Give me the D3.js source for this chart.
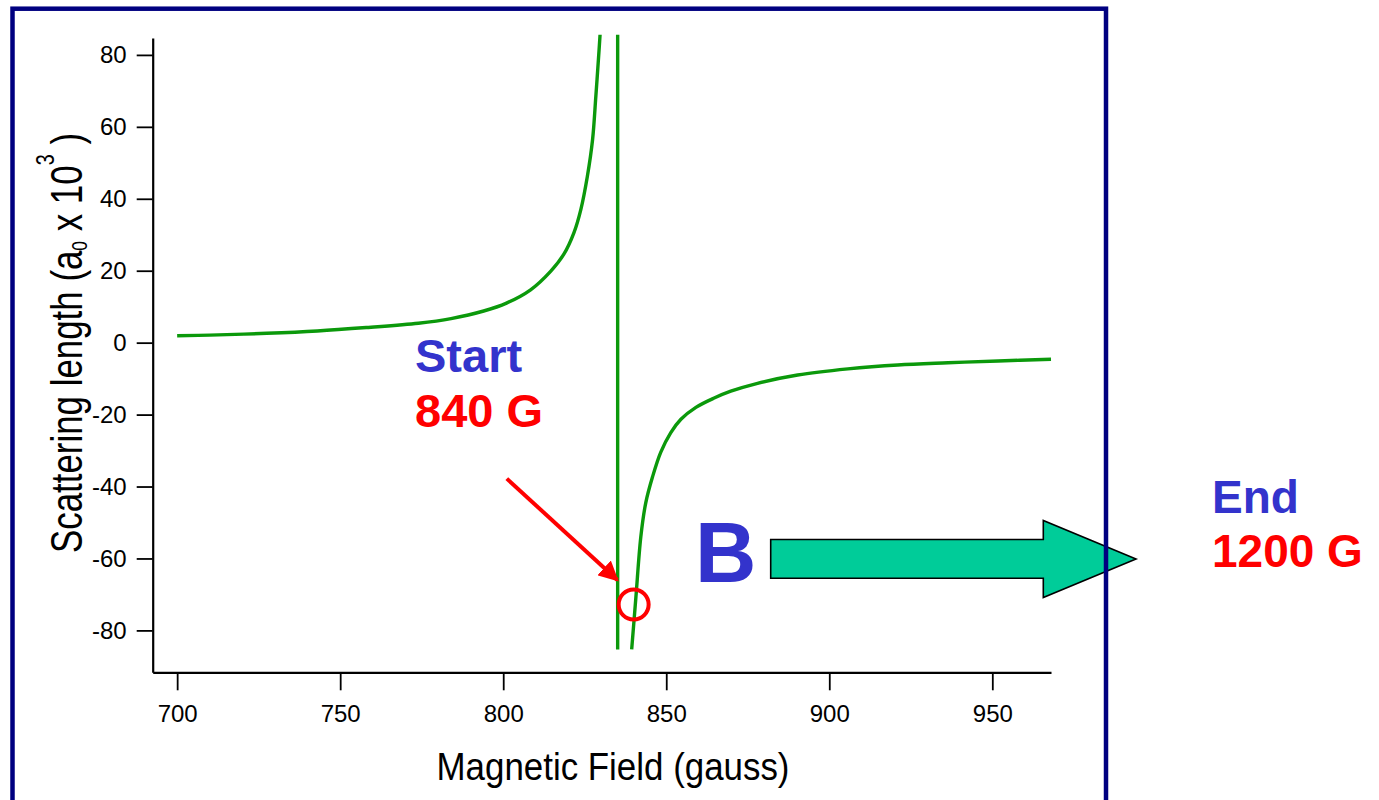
<!DOCTYPE html>
<html>
<head>
<meta charset="utf-8">
<script src="https://cdn.jsdelivr.net/npm/d3@7"></script>
<style>
  body { margin: 0; background: #fff; }
  svg { display: block; font-family: "Liberation Sans", Arial, sans-serif; }
</style>
</head>
<body>
<div class="chart"></div>
<script>
// magnetic field (gauss) and scattering length (a0 x 10^3)
const leftField = [700, 710, 727.5, 743, 758, 774, 784, 794, 801, 808.4, 814.6, 818.6, 821.7, 823.8, 825.8, 827.4, 828.4, 829.4, 829.7];
const leftLength = [1.9, 2.1, 2.6, 3.25, 4.2, 5.4, 6.7, 8.8, 11.0, 14.7, 19.9, 24.6, 30.6, 37.0, 46.2, 56.4, 68.4, 81.4, 85.6];
const rightField = [839.4, 840.7, 842.2, 843.7, 845.8, 848.3, 851.4, 854.5, 859.1, 864.7, 869.8, 878.0, 890.3, 905.7, 921.0, 936.4, 951.8, 968.0];
const rightLength = [-85.3, -70.7, -54.0, -44.6, -37.3, -30.5, -25.0, -21.3, -18.0, -15.4, -13.5, -11.3, -9.0, -7.3, -6.2, -5.6, -5.1, -4.6];
const poleField = 835.1;
const poleLength = [-85.3, 85.6];
const startMarker = [840, -72.8];
const pointerFrom = [801.1, -37.8];
const pointerTo = [835.0, -66.0];

const xTicks = [700, 750, 800, 850, 900, 950];
const yTicks = [-80, -60, -40, -20, 0, 20, 40, 60, 80];

const width = 1379;
const height = 800;
const green = "#0b990b";

const svg = d3
  .select(".chart")
  .append("svg")
  .attr("width", width)
  .attr("height", height);

const x = d3.scaleLinear().domain([692.5, 968]).range([152.7, 1051]);
const y = d3.scaleLinear().domain([-91.65, 84.7]).range([672.3, 38]);

// axes (plain hyphen for negatives, like the original)
const xAxis = svg
  .append("g")
  .attr("transform", "translate(0,672.3)")
  .call(d3.axisBottom(x).tickValues(xTicks).tickFormat((d) => String(d)).tickSize(18).tickSizeOuter(0).tickPadding(15));
xAxis.selectAll("text").attr("font-size", 24).attr("fill", "#000").attr("font-family", "Liberation Sans, Arial");

const yAxis = svg
  .append("g")
  .attr("transform", "translate(152.7,0)")
  .call(d3.axisLeft(y).tickValues(yTicks).tickFormat((d) => String(d)).tickSize(16).tickSizeOuter(0).tickPadding(10));
yAxis.selectAll("text").attr("font-size", 24).attr("fill", "#000").attr("font-family", "Liberation Sans, Arial");

svg.selectAll(".domain").attr("stroke", "#000").attr("stroke-width", 2.2);
svg.selectAll(".tick line").attr("stroke", "#000").attr("stroke-width", 1.8);

// axis titles
svg
  .append("text")
  .attr("x", 613)
  .attr("y", 780)
  .attr("text-anchor", "middle")
  .attr("font-size", 38)
  .attr("textLength", 353)
  .attr("lengthAdjust", "spacingAndGlyphs")
  .text("Magnetic Field (gauss)");

const yTitle = svg
  .append("text")
  .attr("transform", "translate(81.7,343) rotate(-90)")
  .attr("text-anchor", "middle")
  .attr("font-size", 44)
  .attr("textLength", 420)
  .attr("lengthAdjust", "spacingAndGlyphs");
yTitle.append("tspan").text("Scattering length (a");
yTitle.append("tspan").attr("font-size", 22).attr("dy", 5).text("0");
yTitle.append("tspan").attr("dy", -5).text(" x 10");
yTitle.append("tspan").attr("font-size", 25).attr("dy", -28).text("3");
yTitle.append("tspan").attr("dy", 28).text(" )");

// curve branches
const line = d3
  .line()
  .x((d) => x(d[0]))
  .y((d) => y(d[1]))
  .curve(d3.curveCatmullRom.alpha(0.5));

const leftData = leftField.map((f, i) => [f, leftLength[i]]);
const rightData = rightField.map((f, i) => [f, rightLength[i]]);

svg
  .selectAll("path.branch")
  .data([leftData, rightData])
  .enter()
  .append("path")
  .attr("class", "branch")
  .attr("d", line)
  .attr("fill", "none")
  .attr("stroke", green)
  .attr("stroke-width", 3.4)
  .attr("stroke-linejoin", "round");

svg
  .append("line")
  .attr("x1", x(poleField))
  .attr("x2", x(poleField))
  .attr("y1", y(poleLength[0]))
  .attr("y2", y(poleLength[1]))
  .attr("stroke", green)
  .attr("stroke-width", 3.4);

// start annotation
svg
  .append("defs")
  .append("marker")
  .attr("id", "redhead")
  .attr("viewBox", "0 0 10 10")
  .attr("refX", 9)
  .attr("refY", 5)
  .attr("markerWidth", 5)
  .attr("markerHeight", 5)
  .attr("markerUnits", "strokeWidth")
  .attr("orient", "auto")
  .append("path")
  .attr("d", "M0,0 L10,5 L0,10 z")
  .attr("fill", "#ff0000");

svg
  .append("line")
  .attr("x1", x(pointerFrom[0]))
  .attr("y1", y(pointerFrom[1]))
  .attr("x2", x(pointerTo[0]))
  .attr("y2", y(pointerTo[1]))
  .attr("stroke", "#ff0000")
  .attr("stroke-width", 4)
  .attr("marker-end", "url(#redhead)");

svg
  .append("circle")
  .attr("cx", x(startMarker[0]))
  .attr("cy", y(startMarker[1]))
  .attr("r", 15)
  .attr("fill", "none")
  .attr("stroke", "#ff0000")
  .attr("stroke-width", 4);

svg
  .append("text")
  .attr("x", 415)
  .attr("y", 371.7)
  .attr("font-size", 47)
  .attr("font-weight", "bold")
  .attr("fill", "#3333cc")
  .text("Start");

svg
  .append("text")
  .attr("x", 415)
  .attr("y", 426.7)
  .attr("font-size", 47)
  .attr("font-weight", "bold")
  .attr("fill", "#ff0000")
  .text("840 G");

// sweep arrow
svg
  .append("text")
  .attr("x", 695)
  .attr("y", 582.3)
  .attr("font-size", 85)
  .attr("font-weight", "bold")
  .attr("fill", "#3333cc")
  .text("B");

svg
  .append("path")
  .attr("d", "M770.7,539.5 L1043.3,539.5 L1043.3,520.5 L1136,559 L1043.3,597.5 L1043.3,578.3 L770.7,578.3 Z")
  .attr("fill", "#00cc99")
  .attr("stroke", "#000")
  .attr("stroke-width", 1.6);

svg
  .append("text")
  .attr("x", 1212)
  .attr("y", 513.3)
  .attr("font-size", 46)
  .attr("font-weight", "bold")
  .attr("fill", "#3333cc")
  .text("End");

svg
  .append("text")
  .attr("x", 1212)
  .attr("y", 567.3)
  .attr("font-size", 46)
  .attr("font-weight", "bold")
  .attr("fill", "#ff0000")
  .text("1200 G");

// slide frame
svg
  .append("rect")
  .attr("x", 12.5)
  .attr("y", 8.7)
  .attr("width", 1093.5)
  .attr("height", 820)
  .attr("fill", "none")
  .attr("stroke", "#000080")
  .attr("stroke-width", 4.5);
</script>
</body>
</html>
